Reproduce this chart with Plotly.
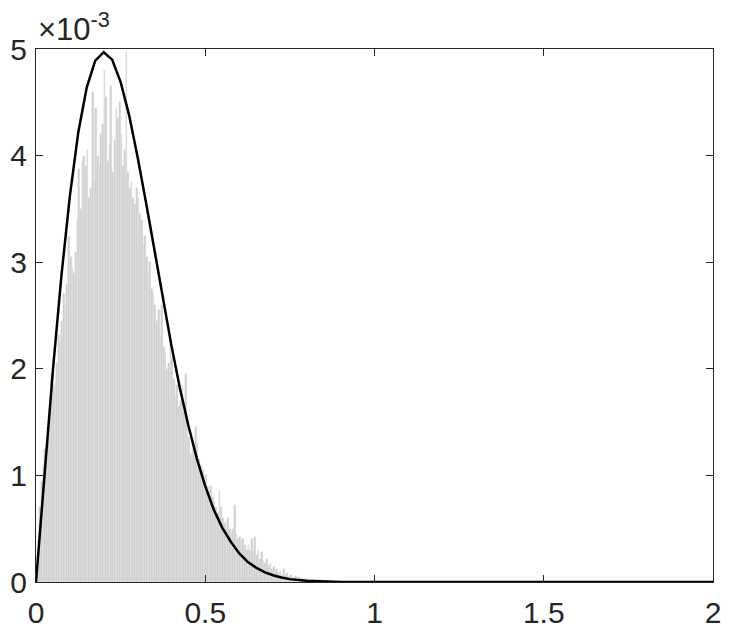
import numpy as np
import plotly.graph_objects as go

# histogram: bin width and bar heights (units of 1e-3), bins start at 0
BIN_WIDTH = 0.005
hist_vals = [
    # 0.0 - 0.1
    0.15, 0.4, 0.7, 0.95, 1.1, 1.25, 1.15, 1.45, 1.7, 1.95,
    1.85, 1.87, 2.05, 2.32, 2.25, 2.45, 2.7, 2.6, 2.8, 3.25,
    # 0.1 - 0.2
    3.05, 2.95, 2.9, 3.1, 3.4, 3.87, 3.5, 3.95, 4.0, 3.9,
    4.05, 3.6, 3.7, 4.6, 3.75, 4.45, 4.0, 3.9, 4.2, 4.3,
    # 0.2 - 0.3
    4.8, 4.55, 3.95, 4.1, 4.65, 3.85, 4.15, 4.45, 4.35, 4.5,
    4.2, 3.9, 4.05, 4.98, 3.85, 3.7, 3.75, 3.6, 3.55, 3.7,
    # 0.3 - 0.4
    3.6, 3.45, 3.4, 3.15, 3.25, 3.05, 2.9, 3.0, 2.75, 2.7,
    2.6, 2.45, 2.55, 2.3, 2.6, 2.2, 2.15, 2.0, 2.05, 2.25,
    # 0.4 - 0.5
    2.1, 1.9, 1.75, 1.85, 1.65, 1.7, 1.85, 1.6, 1.95, 1.55,
    1.35, 1.2, 1.3, 1.25, 1.45, 1.3, 1.15, 1.1, 1.05, 0.95,
    # 0.5 - 0.6
    1.0, 0.9, 0.85, 0.9, 0.8, 0.75, 0.7, 0.65, 0.85, 0.7,
    0.6, 0.55, 0.5, 0.6, 0.5, 0.45, 0.5, 0.72, 0.45, 0.4,
    # 0.6 - 0.7
    0.42, 0.38, 0.4, 0.35, 0.3, 0.35, 0.3, 0.4, 0.28, 0.42,
    0.25, 0.3, 0.22, 0.28, 0.2, 0.18, 0.22, 0.15, 0.18, 0.12,
    # 0.7 - 0.8
    0.14, 0.1, 0.12, 0.08, 0.1, 0.07, 0.12, 0.06, 0.08, 0.05,
    0.07, 0.05, 0.04, 0.06, 0.03, 0.05, 0.03, 0.04, 0.02, 0.03,
    # 0.8 - 0.9
    0.02, 0.03, 0.02, 0.01, 0.02, 0.01, 0.015, 0.01, 0.02, 0.01,
    0.01, 0.005, 0.01, 0.005, 0.01, 0.0, 0.005, 0.01, 0.0, 0.005,
]

# fitted density curve (units of 1e-3)
curve_x = [
    0.0, 0.025, 0.05, 0.075, 0.1, 0.125, 0.15, 0.175, 0.2, 0.225,
    0.25, 0.275, 0.3, 0.325, 0.35, 0.375, 0.4, 0.425, 0.45, 0.475,
    0.5, 0.525, 0.55, 0.575, 0.6, 0.625, 0.65, 0.675, 0.7, 0.725,
    0.75, 0.8, 0.85, 0.9, 1.0, 1.25, 1.5, 1.75, 2.0,
]
curve_y = [
    0.0, 1.02, 1.99, 2.87, 3.62, 4.22, 4.64, 4.89, 4.97, 4.90,
    4.69, 4.38, 3.99, 3.56, 3.10, 2.65, 2.22, 1.82, 1.47, 1.16,
    0.90, 0.68, 0.51, 0.38, 0.27, 0.19, 0.135, 0.093, 0.063, 0.042,
    0.027, 0.011, 0.004, 0.001, 0.0, 0.0, 0.0, 0.0, 0.0,
]

x_ticks = [0, 0.5, 1, 1.5, 2]
x_tick_text = ["0", "0.5", "1", "1.5", "2"]
y_ticks = [0, 1, 2, 3, 4, 5]

axis_color = "#262626"
font = dict(family="Liberation Sans, Arial, sans-serif", size=30, color="#262626")

bin_centers = (np.arange(len(hist_vals)) + 0.5) * BIN_WIDTH

fig = go.Figure()
fig.add_trace(
    go.Bar(
        x=bin_centers,
        y=hist_vals,
        width=BIN_WIDTH,
        marker=dict(color="#cecece", line=dict(color="#e4e4e4", width=0.4)),
        showlegend=False,
    )
)
fig.add_trace(
    go.Scatter(
        x=curve_x,
        y=curve_y,
        mode="lines",
        line=dict(color="black", width=2.5),
        showlegend=False,
    )
)

# the page body adds an 8px offset, so the figure is 8px smaller each way
fig.update_layout(
    width=723,
    height=620,
    margin=dict(l=28, r=18, t=41, b=46, autoexpand=False),
    paper_bgcolor="white",
    plot_bgcolor="white",
    font=font,
    bargap=0,
    annotations=[
        dict(
            text="×10<sup>-3</sup>",
            xref="paper", yref="paper",
            x=0.0, y=1.0,
            xanchor="left", yanchor="bottom",
            yshift=0,
            showarrow=False,
            font=dict(family=font["family"], size=31, color="#262626"),
        )
    ],
)
fig.update_xaxes(
    range=[0, 2],
    tickvals=x_ticks,
    ticktext=x_tick_text,
    ticks="inside",
    ticklen=7,
    tickwidth=1,
    tickcolor=axis_color,
    showline=True,
    linecolor=axis_color,
    linewidth=1.2,
    mirror="allticks",
    showgrid=False,
    zeroline=False,
    automargin=False,
    ticklabelstandoff=4,
)
fig.update_yaxes(
    range=[0, 5],
    tickvals=y_ticks,
    ticks="inside",
    ticklen=7,
    tickwidth=1,
    tickcolor=axis_color,
    showline=True,
    linecolor=axis_color,
    linewidth=1.2,
    mirror="allticks",
    showgrid=False,
    zeroline=False,
    automargin=False,
    ticklabelstandoff=2,
)

fig.write_html("out.html")
